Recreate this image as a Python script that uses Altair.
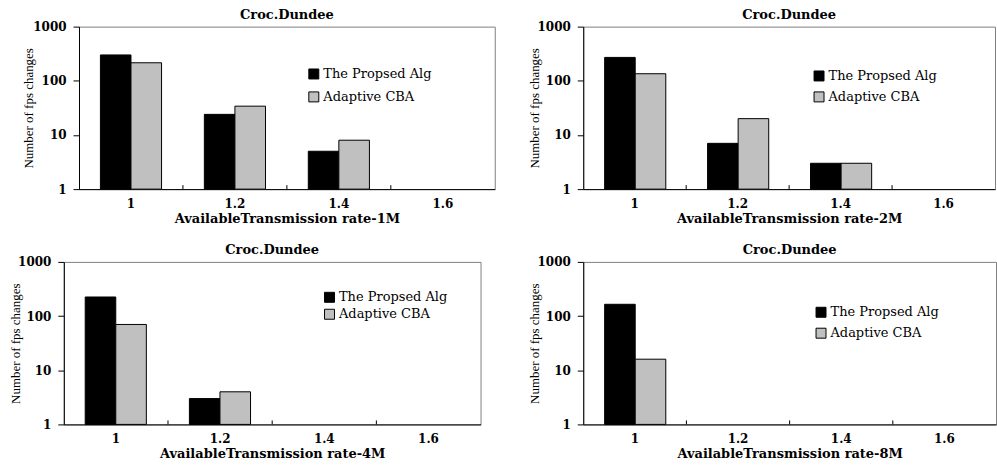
import altair as alt
import pandas as pd

rates = ["1", "1.2", "1.4", "1.6"]
series = ["The Propsed Alg", "Adaptive CBA"]
colors = ["#000000", "#c0c0c0"]

proposed_1m = [300, 24, 5, None]
cba_1m = [215, 34, 8, None]
proposed_2m = [270, 7, 3, None]
cba_2m = [135, 20, 3, None]
proposed_4m = [225, 3, None, None]
cba_4m = [70, 4, None, None]
proposed_8m = [165, None, None, None]
cba_8m = [16, None, None, None]

x_titles = [
    "AvailableTransmission rate-1M",
    "AvailableTransmission rate-2M",
    "AvailableTransmission rate-4M",
    "AvailableTransmission rate-8M",
]
panel_title = "Croc.Dundee"
y_title = "Number of fps changes"
y_ticks = [1, 10, 100, 1000]
y_base = 1

H = 163


def frame(p, c):
    rows = []
    for r, a, b in zip(rates, p, c):
        if a is not None:
            rows.append({"rate": r, "series": series[0], "value": a})
        if b is not None:
            rows.append({"rate": r, "series": series[1], "value": b})
    return pd.DataFrame(rows)


def panel(p, c, xtitle, width, lx, ly, row_pad, title_offset, title_x,
          min_extent, right_reserve=0):
    df = frame(p, c)
    x = alt.X(
        "rate:N",
        scale=alt.Scale(domain=rates, paddingInner=0, paddingOuter=0),
        axis=alt.Axis(
            title=xtitle, labelAngle=0, ticks=False, labelPadding=9,
            titlePadding=3,
        ),
    )
    y_axis = alt.Axis(
        values=y_ticks, format="d", tickSize=6, labelPadding=7,
        title=y_title, titleX=title_x, titleY=H / 2, minExtent=min_extent,
        grid=False,
    )
    bars = alt.Chart(df).mark_bar(stroke="black", strokeWidth=1).encode(
        x=x,
        xOffset=alt.XOffset(
            "series:N",
            scale=alt.Scale(domain=series, paddingInner=0, paddingOuter=0.7),
        ),
        y=alt.Y(
            "value:Q",
            scale=alt.Scale(type="log", domain=[1, 1000], nice=False),
            axis=y_axis,
        ),
        y2=alt.datum(y_base),
        color=alt.Color(
            "series:N",
            scale=alt.Scale(domain=series, range=colors),
            legend=alt.Legend(
                title=None, orient="none", legendX=lx, legendY=ly,
                symbolType="square", symbolSize=100, symbolStrokeColor="black",
                symbolStrokeWidth=1, labelOffset=3, rowPadding=row_pad,
                padding=0, labelFont="DejaVu Serif", labelFontSize=13,
                labelColor="black",
            ),
        ),
    )
    tick_df = pd.DataFrame({"rate": rates[1:]})
    ticks = alt.Chart(tick_df).mark_rule(color="black", strokeWidth=1).encode(
        x=alt.X("rate:N", bandPosition=0),
        y=alt.value(H - 4),
        y2=alt.value(H),
    )
    layers = [bars, ticks]
    if right_reserve:
        # invisible layout helper that widens the panel's bounds to the right
        spacer = alt.Chart(tick_df.head(1)).mark_rule(color="white", strokeWidth=1).encode(
            x=alt.value(width + right_reserve),
            y=alt.value(0),
            y2=alt.value(1),
        )
        layers.append(spacer)
    return alt.layer(*layers).properties(
        width=width,
        height=H,
        title=alt.TitleParams(panel_title, offset=title_offset, frame="group"),
    )


tl = panel(proposed_1m, cba_1m, x_titles[0], 417, 229, 41, 8, -1, -43.5, 40)
tr = panel(proposed_2m, cba_2m, x_titles[1], 413, 230, 43, 6, -1, -41.5, 56)
bl = panel(proposed_4m, cba_4m, x_titles[2], 418, 260, 29, 2, -1, -41.5, 58,
           right_reserve=29)
br = panel(proposed_8m, cba_8m, x_titles[3], 414, 232, 44, 6, -1, -41.5, 56)

chart = (
    alt.concat(tl, tr, bl, br, columns=2, align="each",
               center={"column": True, "row": False},
               spacing={"row": 17, "column": 16})
    .resolve_scale(color="independent")
    .resolve_legend(color="independent")
    .properties(padding={"left": 5, "top": 7, "right": 0, "bottom": 0})
    .configure(background="white")
    .configure_view(stroke="#808080", strokeWidth=1)
    .configure_axis(
        labelFont="DejaVu Serif", labelFontWeight="bold", labelFontSize=12,
        labelColor="black", titleColor="black", tickColor="black",
        domainColor="black", domainWidth=1,
    )
    .configure_axisX(titleFont="DejaVu Serif", titleFontWeight="bold", titleFontSize=13)
    .configure_axisY(titleFont="Liberation Serif", titleFontWeight="normal", titleFontSize=13)
    .configure_title(font="DejaVu Serif", fontWeight="bold", fontSize=13, color="black")
)

chart.save("out.html", embed_options={"renderer": "svg", "actions": False})
